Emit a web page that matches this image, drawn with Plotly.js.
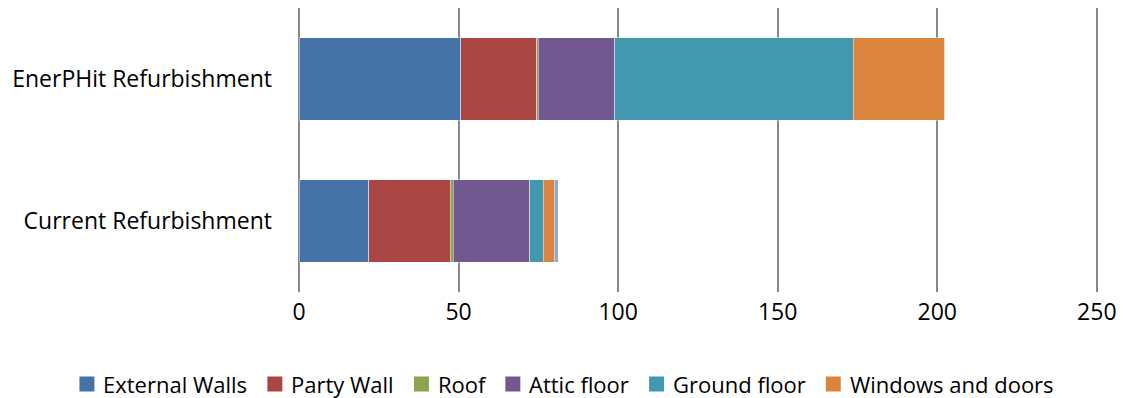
<!DOCTYPE html>
<html>
<head>
<meta charset="utf-8">
<script src="https://cdn.plot.ly/plotly-3.0.1.min.js"></script>
<style>
  html, body { margin: 0; padding: 0; background: #ffffff; }
  #chart { width: 1123px; height: 398px; }
</style>
</head>
<body>
<div id="chart"></div>
<script>
// Refurbishment scenarios (bottom to top on the category axis)
const scenarios = ['Current Refurbishment', 'EnerPHit Refurbishment'];

// Contribution of each building element, per scenario
const externalWalls   = [21.9, 50.7];
const partyWall       = [25.5, 23.8];
const roof            = [0.9, 0.4];
const atticFloor      = [24.0, 24.0];
const groundFloor     = [4.3, 74.7];
const windowsAndDoors = [3.4, 28.7];
const other           = [1.2, 0];

const seriesNames  = ['External Walls', 'Party Wall', 'Roof', 'Attic floor', 'Ground floor', 'Windows and doors', 'Other'];
const seriesValues = [externalWalls, partyWall, roof, atticFloor, groundFloor, windowsAndDoors, other];
const seriesColors = ['#4572A7', '#AA4643', '#89A54E', '#71588F', '#4198AF', '#DB843D', '#93A9CF'];
const legendNames  = seriesNames.slice(0, 6);

const xTicks = [0, 50, 100, 150, 200, 250];

const W = 1123, H = 398;
const margin = { l: 298.5, r: 23, t: 8, b: 106 };
const plotW = W - margin.l - margin.r;
const plotH = H - margin.t - margin.b;

const fontFamily = '"Open Sans", Lato, sans-serif';
const font = { family: fontFamily, size: 23, color: '#000000' };
const legendFontSize = 22;
const legendFont = { family: fontFamily, size: legendFontSize, color: '#000000' };

const traces = seriesNames.map((name, i) => ({
  type: 'bar',
  orientation: 'h',
  name: name,
  y: scenarios,
  x: seriesValues[i],
  marker: { color: seriesColors[i], line: { color: 'rgba(255,255,255,0.45)', width: 1 } },
  showlegend: false
}));

// Legend row drawn beneath the plot: colour square followed by its label
function textWidth(str) {
  const ctx = document.createElement('canvas').getContext('2d');
  ctx.font = legendFontSize + 'px ' + fontFamily;
  return ctx.measureText(str).width;
}
const swatch = 15, swatchGap = 7, itemGap = 22;
const widths = legendNames.map(textWidth);
const totalW = widths.reduce((s, w) => s + swatch + swatchGap + w, 0) + itemGap * (legendNames.length - 1);
const legendCenterPx = 565;
const legendYPx = 384;
const toPaperX = px => (px - margin.l) / plotW;
const toPaperY = py => (H - margin.b - py) / plotH;

const shapes = [];
const annotations = [];
let cursor = legendCenterPx - totalW / 2;
legendNames.forEach((name, i) => {
  shapes.push({
    type: 'rect', xref: 'paper', yref: 'paper',
    x0: toPaperX(cursor), x1: toPaperX(cursor + swatch),
    y0: toPaperY(legendYPx + swatch / 2), y1: toPaperY(legendYPx - swatch / 2),
    fillcolor: seriesColors[i], line: { width: 0 }
  });
  cursor += swatch + swatchGap;
  annotations.push({
    xref: 'paper', yref: 'paper',
    x: toPaperX(cursor), y: toPaperY(legendYPx),
    xanchor: 'left', yanchor: 'middle',
    text: name, showarrow: false, font: legendFont
  });
  cursor += widths[i] + itemGap;
});

const layout = {
  width: W,
  height: H,
  margin: margin,
  barmode: 'stack',
  bargap: 0.42,
  paper_bgcolor: '#ffffff',
  plot_bgcolor: '#ffffff',
  font: font,
  showlegend: false,
  xaxis: {
    range: [0, 251],
    tickvals: xTicks,
    ticktext: xTicks.map(String),
    showgrid: true,
    gridcolor: '#878787',
    gridwidth: 2,
    zeroline: true,
    zerolinecolor: '#878787',
    zerolinewidth: 2,
    showline: false,
    ticks: '',
    ticklabelstandoff: 4,
    tickfont: font,
    fixedrange: true
  },
  yaxis: {
    categoryorder: 'array',
    categoryarray: scenarios,
    showgrid: false,
    zeroline: false,
    showline: false,
    ticks: '',
    ticklabelstandoff: 26,
    tickfont: font,
    fixedrange: true
  },
  shapes: shapes,
  annotations: annotations
};

Plotly.newPlot('chart', traces, layout, { displayModeBar: false, staticPlot: true });
</script>
</body>
</html>
